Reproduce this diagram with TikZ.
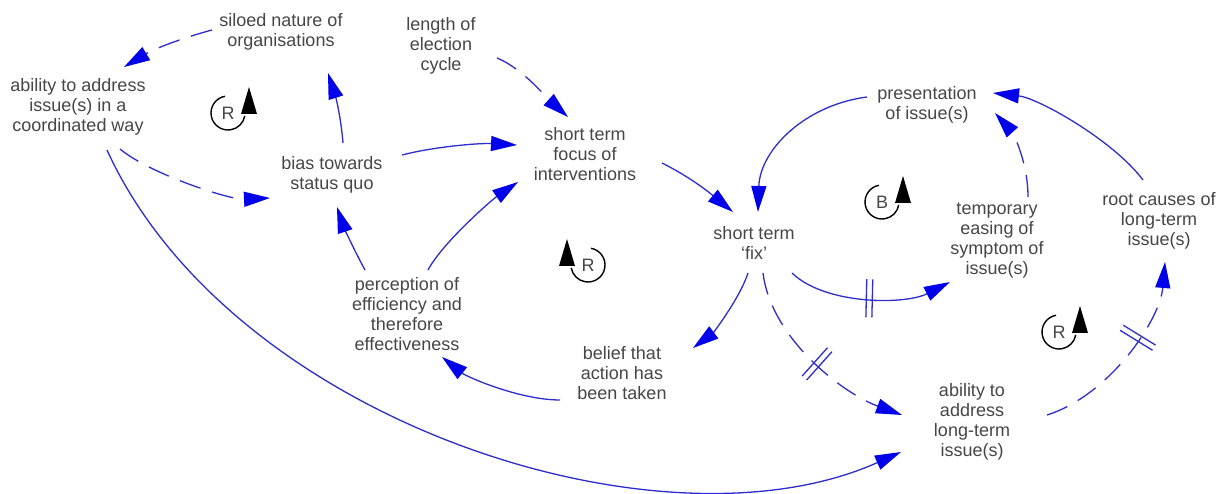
\documentclass[tikz,border=0pt]{standalone}
\usepackage{fontspec}
\setmainfont{Liberation Sans}[Ligatures={TeX,NoCommon}]
\usetikzlibrary{arrows.meta,decorations.markings}

\definecolor{linkblue}{RGB}{45,45,205}
\definecolor{headblue}{RGB}{0,0,235}
\definecolor{vartext}{RGB}{70,70,70}

\tikzset{
  var/.style={align=center, text=vartext, font=\fontsize{18}{20}\selectfont, inner sep=0pt},
  link/.style={draw=linkblue, line width=1.3pt, -{Triangle[length=26pt,width=15pt,color=headblue]}},
  dlink/.style={link, dash pattern=on 22pt off 12pt},
  delay/.style={postaction={decorate}, decoration={markings,
      mark=at position #1 with {\draw[-, solid, linkblue, line width=1.3pt] (-3,-19) -- (-3,19) (3,-19) -- (3,19);}}},
  looptext/.style={text=vartext, font=\fontsize{18}{18}\selectfont, inner sep=0pt},
  % counter-clockwise loop marker, arrow on the right
  loopccw/.pic={
    \node[looptext] (-label) {#1};
    \draw[black, line width=1.4pt, y=1pt] (100:17) arc[start angle=100, end angle=350, radius=17];
    \fill[black, y=1pt] (13,-1) -- (29,-1) -- (21,26) -- cycle;
  },
  % clockwise loop marker, arrow on the left
  loopcw/.pic={
    \node[looptext] (-label) {#1};
    \draw[black, line width=1.4pt, y=1pt] (80:17) arc[start angle=80, end angle=-170, radius=17];
    \fill[black, y=1pt] (-13,-1) -- (-29,-1) -- (-21,26) -- cycle;
  },
}

\begin{document}
\begin{tikzpicture}[x=1pt, y=-1pt]
\fill[white] (0,0) rectangle (1221,494);
\useasboundingbox (0,0) rectangle (1221,494);

% variables
\node[var] (siloed)   at (281,32)  {siloed nature of\\organisations};
\node[var] (length)   at (441,46)  {length of\\election\\cycle};
\node[var] (coord)    at (78,107)  {ability to address\\issue(s) in a\\coordinated way};
\node[var] (bias)     at (332,175) {bias towards\\status quo};
\node[var] (focus)    at (585,154) {short term\\focus of\\interventions};
\node[var] (fix)      at (754,243) {short term\\‘fix’};
\node[var] (pres)     at (927,105) {presentation\\of issue(s)};
\node[var] (temp)     at (997,241) {temporary\\easing of\\symptom of\\issue(s)};
\node[var] (root)     at (1159,221) {root causes of\\long-term\\issue(s)};
\node[var] (perc)     at (407,314) {perception of\\efficiency and\\therefore\\effectiveness};
\node[var] (belief)   at (622,373) {belief that\\action has\\been taken};
\node[var] (longterm) at (972,422) {ability to\\address\\long-term\\issue(s)};

% loop markers
\pic (loopA) at (228,113) {loopccw=R};
\pic (loopB) at (588,265) {loopcw=R};
\pic (loopC) at (882,202) {loopccw=B};
\pic (loopD) at (1059,332) {loopccw=R};

% causal links
\draw[dlink] ([shift={(-69,-2)}]siloed.center) .. controls +(-30,8) and +(30,-18) .. ([shift={(46,-40)}]coord.center);
\draw[link] ([shift={(11,-32)}]bias.center) .. controls +(-2,-25) and +(8,25) .. ([shift={(47,41)}]siloed.center);
\draw[dlink] ([shift={(42,42)}]coord.center) .. controls +(30,25) and +(-40,2) .. ([shift={(-62,23)}]bias.center);
\draw[link] ([shift={(29,43)}]coord.center) .. controls +(123,270) and +(-241,108) .. ([shift={(-71,30)}]longterm.center);
\draw[dlink] ([shift={(56,12)}]length.center) .. controls +(25,10) and +(-20,-18) .. ([shift={(-17,-37)}]focus.center);
\draw[link] ([shift={(70,-20)}]bias.center) .. controls +(35,-9) and +(-35,-2) .. ([shift={(-68,-9)}]focus.center);
\draw[link] ([shift={(21,-44)}]perc.center) .. controls +(15,-28) and +(-25,17) .. ([shift={(-67,28)}]focus.center);
\draw[link] ([shift={(-42,-44)}]perc.center) .. controls +(-12,-22) and +(6,18) .. ([shift={(5,32)}]bias.center);
\draw[link] ([shift={(77,9)}]focus.center) .. controls +(30,15) and +(-22,-18) .. ([shift={(-21,-31)}]fix.center);
\draw[link] ([shift={(-60,-8)}]pres.center) .. controls +(-62,8) and +(2,-62) .. ([shift={(4,-31)}]fix.center);
\draw[link] ([shift={(-6,30)}]fix.center) .. controls +(-8,25) and +(20,-15) .. ([shift={(71,-25)}]belief.center);
\draw[link] ([shift={(-62,27)}]belief.center) .. controls +(-40,0) and +(25,20) .. ([shift={(35,43)}]perc.center);
\draw[link, delay=0.5] ([shift={(38,30)}]fix.center) .. controls +(33,32) and +(-45,23) .. ([shift={(-47,41)}]temp.center);
\draw[dlink, delay=0.52] ([shift={(9,30)}]fix.center) .. controls +(8,65) and +(-60,-22) .. ([shift={(-70,-7)}]longterm.center);
\draw[dlink, delay=0.6] ([shift={(75,-7)}]longterm.center) .. controls +(63,-20) and +(-5,58) .. ([shift={(6,41)}]root.center);
\draw[dlink] ([shift={(31,-44)}]temp.center) .. controls +(0,-35) and +(18,20) .. ([shift={(68,8)}]pres.center);
\draw[link] ([shift={(-16,-41)}]root.center) .. controls +(-30,-40) and +(45,5) .. ([shift={(66,-12)}]pres.center);
\end{tikzpicture}
\end{document}
